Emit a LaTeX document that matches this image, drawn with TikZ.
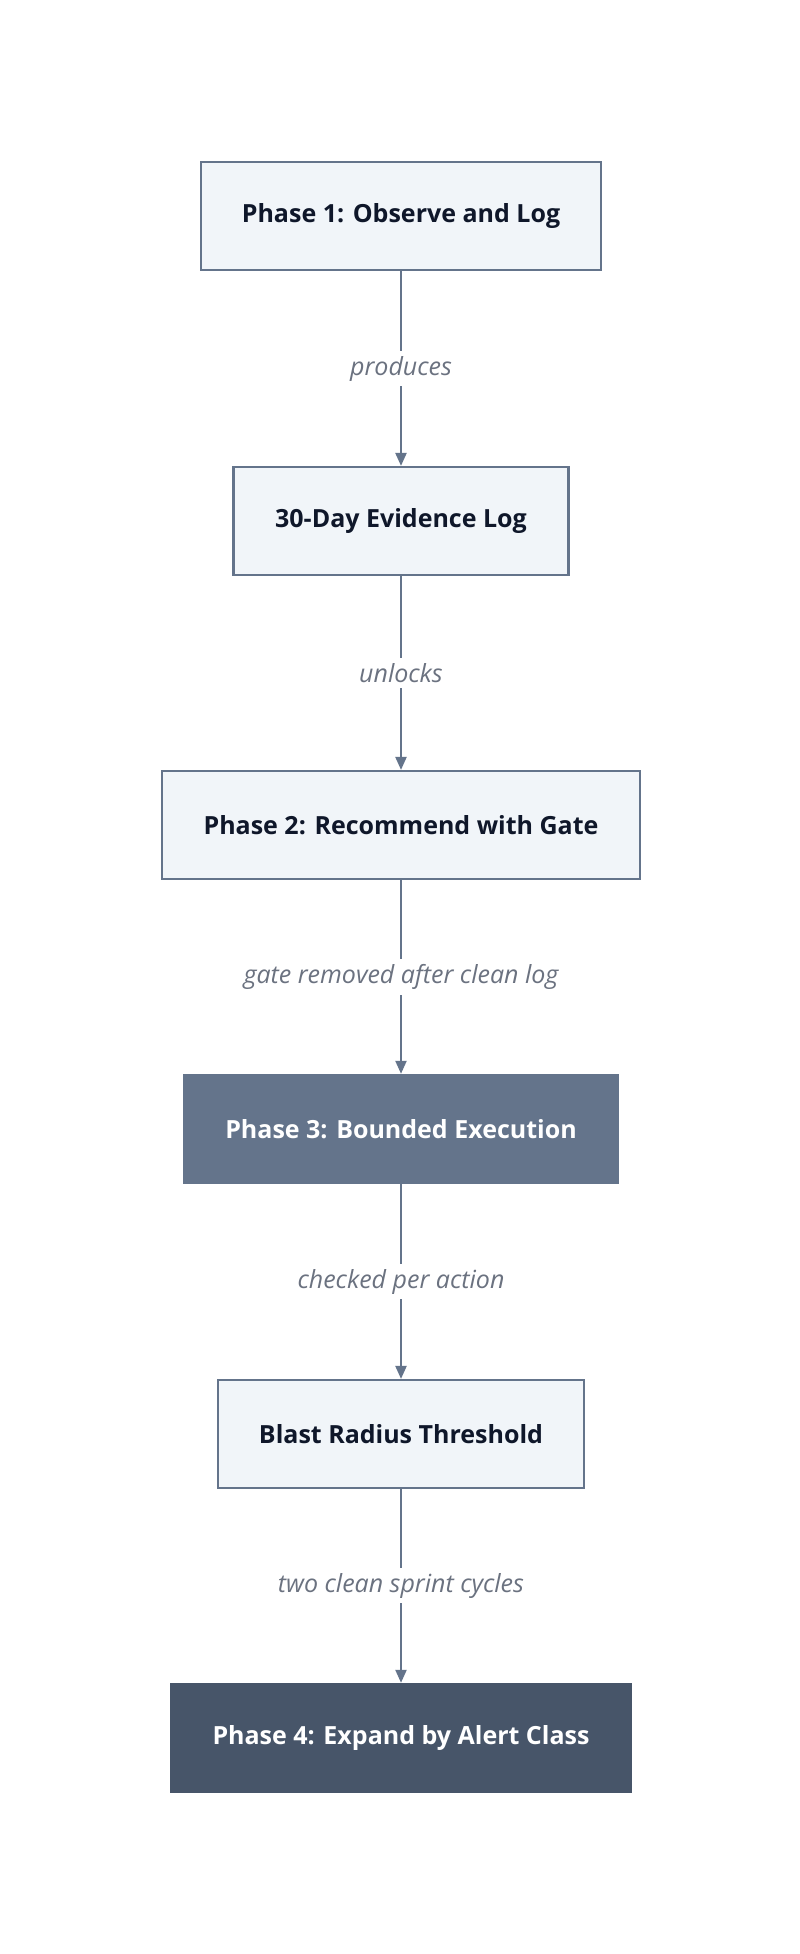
\documentclass[tikz,border=0pt]{standalone}
\usepackage{fontspec}
\setmainfont{Open Sans}
\usetikzlibrary{arrows.meta}
\definecolor{slateline}{HTML}{64748B}
\definecolor{slatefill}{HTML}{F1F5F9}
\definecolor{slatemid}{HTML}{64748B}
\definecolor{slatedark}{HTML}{475569}
\definecolor{labelgray}{HTML}{6B7280}
\definecolor{inkdark}{HTML}{0F172A}
\tikzset{
  phase/.style={draw=slateline, line width=2.2pt, fill=slatefill, minimum height=108pt,
    text=inkdark, font=\fontsize{25}{30}\selectfont\bfseries},
  midphase/.style={fill=slatemid, minimum height=110pt, text=white,
    font=\fontsize{25}{30}\selectfont\bfseries},
  darkphase/.style={fill=slatedark, minimum height=110pt, text=white,
    font=\fontsize{25}{30}\selectfont\bfseries},
  flow/.style={draw=slateline, line width=2.2pt, -{Triangle[length=13pt,width=11pt]}},
  tag/.style={fill=white, text=labelgray, inner sep=5pt, font=\fontsize{25}{30}\selectfont\itshape}
}
\begin{document}
\begin{tikzpicture}[x=1pt,y=1pt]
  \useasboundingbox[fill=white] (0,0) rectangle (800,-1954);
  % phases
  \node[phase, minimum width=400pt] (observe) at (401,-216) {Phase 1: Observe and Log};
  \node[phase, minimum width=335pt] (evidence) at (401,-521) {30-Day Evidence Log};
  \node[phase, minimum width=478pt] (recommend) at (401,-825) {Phase 2: Recommend with Gate};
  \node[midphase, minimum width=436pt] (bounded) at (401,-1129) {Phase 3: Bounded Execution};
  \node[phase, minimum width=366pt] (blast) at (401,-1434) {Blast Radius Threshold};
  \node[darkphase, minimum width=462pt] (expand) at (401,-1738) {Phase 4: Expand by Alert Class};
  % connectors
  \draw[flow] (observe) -- node[tag] {produces} (evidence);
  \draw[flow] (evidence) -- node[tag] {unlocks} (recommend);
  \draw[flow] (recommend) -- node[tag] {gate removed after clean log} (bounded);
  \draw[flow] (bounded) -- node[tag] {checked per action} (blast);
  \draw[flow] (blast) -- node[tag] {two clean sprint cycles} (expand);
\end{tikzpicture}
\end{document}
